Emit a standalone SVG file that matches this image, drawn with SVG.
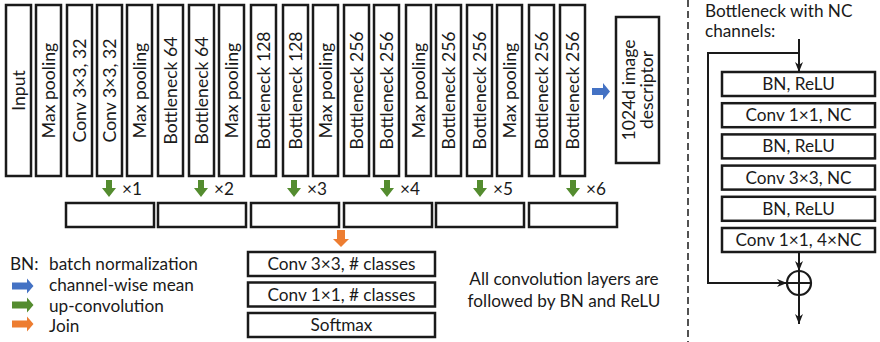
<svg xmlns="http://www.w3.org/2000/svg" width="880" height="342" viewBox="0 0 880 342">
<defs>
<style>
text{font-family:Lato,"Open Sans","Liberation Sans",sans-serif;font-size:17.2px;fill:#1a1a1a}
.v{font-size:17.6px}
.b{fill:#fff;stroke:#1a1a1a;stroke-width:2.5}
.m{text-anchor:middle}
.ln{fill:none;stroke:#1a1a1a;stroke-width:2}
.g{fill:#548c2f}.bl{fill:#4472c4}.o{fill:#ed7d31}
</style>
<marker id="ah2" viewBox="0 0 10 10" refX="10" refY="5" markerWidth="10" markerHeight="10" orient="auto" markerUnits="userSpaceOnUse">
<path d="M0,1 L10,5 L0,9 L3,5 z" fill="#1a1a1a"/>
</marker>
</defs>

<g id="encoder">
<g id="n1"><rect class="b" x="6" y="5" width="25" height="171"/><text class="m v" transform="translate(18.5,90.5) rotate(-90)" y="6">Input</text></g>
<g id="n2"><rect class="b" x="36" y="5" width="25" height="171"/><text class="m v" transform="translate(48.5,90.5) rotate(-90)" y="6">Max pooling</text></g>
<g id="n3"><rect class="b" x="67" y="5" width="25" height="171"/><text class="m v" transform="translate(79.5,90.5) rotate(-90)" y="6">Conv 3×3, 32</text></g>
<g id="n4"><rect class="b" x="97" y="5" width="25" height="171"/><text class="m v" transform="translate(109.5,90.5) rotate(-90)" y="6">Conv 3×3, 32</text></g>
<g id="n5"><rect class="b" x="127" y="5" width="25" height="171"/><text class="m v" transform="translate(139.5,90.5) rotate(-90)" y="6">Max pooling</text></g>
<g id="n6"><rect class="b" x="158" y="5" width="25" height="171"/><text class="m v" transform="translate(170.5,90.5) rotate(-90)" y="6">Bottleneck 64</text></g>
<g id="n7"><rect class="b" x="189" y="5" width="25" height="171"/><text class="m v" transform="translate(201.5,90.5) rotate(-90)" y="6">Bottleneck 64</text></g>
<g id="n8"><rect class="b" x="219" y="5" width="25" height="171"/><text class="m v" transform="translate(231.5,90.5) rotate(-90)" y="6">Max pooling</text></g>
<g id="n9"><rect class="b" x="251" y="5" width="25" height="171"/><text class="m v" transform="translate(263.5,90.5) rotate(-90)" y="6">Bottleneck 128</text></g>
<g id="n10"><rect class="b" x="283" y="5" width="25" height="171"/><text class="m v" transform="translate(295.5,90.5) rotate(-90)" y="6">Bottleneck 128</text></g>
<g id="n11"><rect class="b" x="313" y="5" width="25" height="171"/><text class="m v" transform="translate(325.5,90.5) rotate(-90)" y="6">Max pooling</text></g>
<g id="n12"><rect class="b" x="344" y="5" width="25" height="171"/><text class="m v" transform="translate(356.5,90.5) rotate(-90)" y="6">Bottleneck 256</text></g>
<g id="n13"><rect class="b" x="374" y="5" width="25" height="171"/><text class="m v" transform="translate(386.5,90.5) rotate(-90)" y="6">Bottleneck 256</text></g>
<g id="n14"><rect class="b" x="406" y="5" width="25" height="171"/><text class="m v" transform="translate(418.5,90.5) rotate(-90)" y="6">Max pooling</text></g>
<g id="n15"><rect class="b" x="436" y="5" width="25" height="171"/><text class="m v" transform="translate(448.5,90.5) rotate(-90)" y="6">Bottleneck 256</text></g>
<g id="n16"><rect class="b" x="467" y="5" width="25" height="171"/><text class="m v" transform="translate(479.5,90.5) rotate(-90)" y="6">Bottleneck 256</text></g>
<g id="n17"><rect class="b" x="497" y="5" width="25" height="171"/><text class="m v" transform="translate(509.5,90.5) rotate(-90)" y="6">Max pooling</text></g>
<g id="n18"><rect class="b" x="529" y="5" width="25" height="171"/><text class="m v" transform="translate(541.5,90.5) rotate(-90)" y="6">Bottleneck 256</text></g>
<g id="n19"><rect class="b" x="560" y="5" width="25" height="171"/><text class="m v" transform="translate(572.5,90.5) rotate(-90)" y="6">Bottleneck 256</text></g>
</g>

<g id="descriptor"><rect class="b" x="616" y="17" width="43" height="146"/>
<text class="m v" transform="translate(637.5,90) rotate(-90)" y="-3">1024d image</text>
<text class="m v" transform="translate(637.5,90) rotate(-90)" y="15">descriptor</text></g>

<g id="upconv">
<g id="u1"><rect class="b" x="66" y="203" width="88" height="24"/></g>
<g id="u2"><rect class="b" x="158" y="203" width="88" height="24"/></g>
<g id="u3"><rect class="b" x="251" y="203" width="88" height="24"/></g>
<g id="u4"><rect class="b" x="344" y="203" width="88" height="24"/></g>
<g id="u5"><rect class="b" x="436" y="203" width="88" height="24"/></g>
<g id="u6"><rect class="b" x="529" y="203" width="88" height="24"/></g>
</g>

<g id="head">
<g id="h1"><rect class="b" x="248" y="252" width="187" height="24"/><text class="m" x="341.5" y="270">Conv 3×3, # classes</text></g>
<g id="h2"><rect class="b" x="248" y="282.5" width="187" height="24"/><text class="m" x="341.5" y="300.5">Conv 1×1, # classes</text></g>
<g id="h3"><rect class="b" x="248" y="313" width="187" height="24"/><text class="m" x="341.5" y="331">Softmax</text></g>
</g>

<g id="connectors">
<path class="bl" d="M592,88 H603 V83 L610,91.5 L603,100 V95 H592 z"/>
<path class="g" d="M106,180 H112 V188 H116 L109,197 L102,188 H106 z"/>
<path class="g" d="M198,180 H204 V188 H208 L201,197 L194,188 H198 z"/>
<path class="g" d="M291,180 H297 V188 H301 L294,197 L287,188 H291 z"/>
<path class="g" d="M384,180 H390 V188 H394 L387,197 L380,188 H384 z"/>
<path class="g" d="M477,180 H483 V188 H487 L480,197 L473,188 H477 z"/>
<path class="g" d="M570,180 H576 V188 H580 L573,197 L566,188 H570 z"/>
<path class="o" d="M337,230 H345 V239 H349 L341,247 L333,239 H337 z"/>
<line class="ln" x1="799" y1="39" x2="799" y2="72" marker-end="url(#ah2)"/>
<polyline class="ln" points="799,53 708,53 708,283 787,283" marker-end="url(#ah2)"/>
<line class="ln" x1="799" y1="253" x2="799" y2="271" marker-end="url(#ah2)"/>
<line class="ln" x1="799" y1="295" x2="799" y2="324" marker-end="url(#ah2)"/>
</g>
<g id="labels">
<text x="122" y="195">×1</text>
<text x="214" y="195">×2</text>
<text x="307" y="195">×3</text>
<text x="400" y="195">×4</text>
<text x="493" y="195">×5</text>
<text x="586" y="195">×6</text>
</g>

<g id="legend">
<text x="10" y="270">BN:</text><text x="49" y="270">batch normalization</text>
<path class="bl" d="M12,282.5 H27 V278.5 L33.5,286 L27,293.5 V289.5 H12 z"/>
<text x="49" y="291">channel-wise mean</text>
<path class="g" d="M12,301.5 H27 V297.5 L33.5,305 L27,312.5 V308.5 H12 z"/>
<text x="49" y="311.5">up-convolution</text>
<path class="o" d="M12,320.5 H27 V316.5 L33.5,324 L27,331.5 V327.5 H12 z"/>
<text x="49" y="332">Join</text>
</g>
<g id="note">
<text class="m" x="564" y="285">All convolution layers are</text>
<text class="m" x="564" y="307">followed by BN and ReLU</text>
</g>

<line x1="688" y1="0" x2="688" y2="342" stroke="#1a1a1a" stroke-width="1.5" stroke-dasharray="7 4"/>

<g id="bottleneck">
<text x="705" y="17">Bottleneck with NC</text>
<text x="705" y="37">channels:</text>
<g id="b1"><rect class="b" x="722" y="72" width="153" height="24"/><text class="m" x="798.5" y="90">BN, ReLU</text></g>
<g id="b2"><rect class="b" x="722" y="103.2" width="153" height="24"/><text class="m" x="798.5" y="121.2">Conv 1×1, NC</text></g>
<g id="b3"><rect class="b" x="722" y="134.4" width="153" height="24"/><text class="m" x="798.5" y="152.4">BN, ReLU</text></g>
<g id="b4"><rect class="b" x="722" y="165.6" width="153" height="24"/><text class="m" x="798.5" y="183.6">Conv 3×3, NC</text></g>
<g id="b5"><rect class="b" x="722" y="196.8" width="153" height="24"/><text class="m" x="798.5" y="214.8">BN, ReLU</text></g>
<g id="b6"><rect class="b" x="722" y="228" width="153" height="24"/><text class="m" x="798.5" y="246">Conv 1×1, 4×NC</text></g>
<g id="sum"><circle cx="799" cy="283" r="12" fill="none" stroke="#1a1a1a" stroke-width="2.2"/><path d="M787,283 H811 M799,271 V295" stroke="#1a1a1a" stroke-width="2"/></g>
</g>
</svg>
